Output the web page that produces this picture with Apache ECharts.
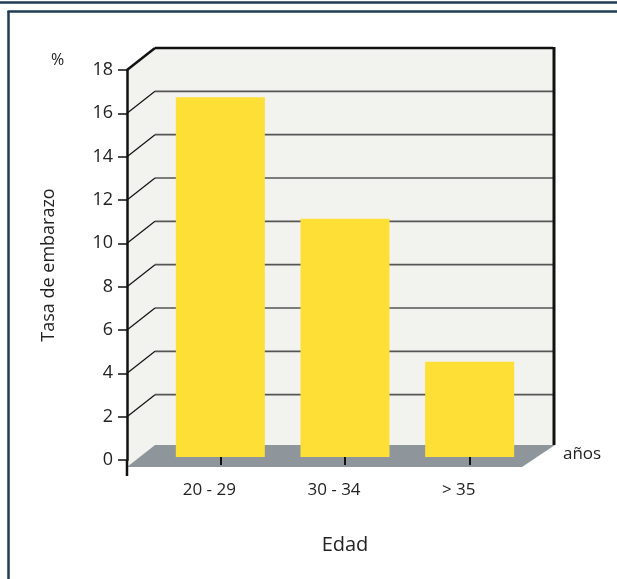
<!DOCTYPE html>
<html>
<head>
<meta charset="utf-8">
<title>Tasa de embarazo por edad</title>
<script src="https://cdn.jsdelivr.net/npm/echarts@6/dist/echarts.min.js"></script>
<style>
	html, body { margin: 0; padding: 0; background: #fff; }
	#chart { width: 617px; height: 579px; }
</style>
</head>
<body>
<div id="chart"></div>
<script>
// datos del grafico
var categorias = ['20 - 29', '30 - 34', '> 35'];
var tasaEmbarazo = [16.6, 11.0, 4.4];
var marcasY = [0, 2, 4, 6, 8, 10, 12, 14, 16, 18];

var FUENTE = '"Open Sans", "DejaVu Sans", sans-serif';
var PROF_X = 28, PROF_Y = -22; // profundidad del efecto 3D
var CAIDA_SUELO = 7;

//paredes y suelo
function pintarParedes(params, api){
	var tl = api.coord([0, marcasY[marcasY.length - 1]]);
	var bl = api.coord([0, 0]);
	var br = api.coord([1, 0]);
	var sueloY = bl[1] + CAIDA_SUELO;
	return {
		type: 'group',
		children: [{
			type: 'rect',
			shape: { x: tl[0] + PROF_X, y: tl[1] + PROF_Y, width: br[0] - bl[0], height: sueloY - tl[1] },
			style: { fill: '#f2f2ee' }
		}, {
			type: 'polygon',
			shape: { points: [[tl[0], tl[1]], [tl[0] + PROF_X, tl[1] + PROF_Y], [bl[0] + PROF_X, sueloY + PROF_Y], [bl[0], sueloY]] },
			style: { fill: '#f2f2ee' }
		}, {
			type: 'polygon',
			shape: { points: [[bl[0], sueloY], [bl[0] + PROF_X, sueloY + PROF_Y], [br[0] + PROF_X + 2, sueloY + PROF_Y], [br[0] - 3, sueloY]] },
			style: { fill: '#8e969b' }
		}]
	};
}

//lineas de la rejilla
function pintarRejilla(params, api){
	var v = api.value(1);
	var izq = api.coord([0, v]);
	var der = api.coord([1, v]);
	var tope = v == marcasY[marcasY.length - 1];
	var hijos = [{
		type: 'line',
		shape: { x1: izq[0], y1: izq[1], x2: izq[0] + PROF_X, y2: izq[1] + PROF_Y },
		style: { stroke: '#111', lineWidth: tope ? 2.5 : 1.2 }
	}, {
		type: 'line',
		shape: { x1: izq[0] + PROF_X, y1: izq[1] + PROF_Y, x2: der[0] + PROF_X, y2: der[1] + PROF_Y },
		style: { stroke: tope ? '#111' : '#555', lineWidth: tope ? 2.5 : 1.6 }
	}];
	if(tope){
		var base = api.coord([1, 0]);
		var cero = api.coord([0, 0]);
		hijos.push({
			type: 'line',
			shape: { x1: der[0] + PROF_X + 1, y1: der[1] + PROF_Y - 1, x2: der[0] + PROF_X + 1, y2: base[1] + CAIDA_SUELO + PROF_Y },
			style: { stroke: '#111', lineWidth: 3 }
		});
		hijos.push({
			type: 'line',
			shape: { x1: cero[0], y1: cero[1], x2: cero[0], y2: cero[1] + 16 },
			style: { stroke: '#111', lineWidth: 2.5 }
		});
	}
	return { type: 'group', children: hijos };
}

var chart = echarts.init(document.getElementById('chart'), null, { renderer: 'canvas' });

var option = {
	backgroundColor: '#fff',
	animation: false,
	textStyle: { fontFamily: FUENTE, color: '#222' },
	grid: [
		{ left: 127, top: 70, width: 398, height: 390 },
		{ left: 158, top: 67, width: 374, height: 390 }
	],
	xAxis: [{
		type: 'value', gridIndex: 0, min: 0, max: 1, show: false
	}, {
		type: 'category',
		gridIndex: 1,
		data: categorias,
		offset: 10,
		z: 10,
		axisLine: { show: false },
		axisTick: { show: true, alignWithLabel: true, length: 8, lineStyle: { color: '#111', width: 2 } },
		axisLabel: { fontSize: 17, color: '#222', margin: 15, fontFamily: FUENTE, padding: [0, 22, 0, 0] },
		name: 'Edad',
		nameLocation: 'middle',
		nameGap: 68,
		nameTextStyle: { fontSize: 20, color: '#222', fontFamily: FUENTE }
	}],
	yAxis: [{
		type: 'value',
		gridIndex: 0,
		min: 0,
		max: 18,
		interval: 2,
		z: 10,
		axisLine: { show: true, lineStyle: { color: '#111', width: 2.5 } },
		axisTick: { show: true, length: 9, lineStyle: { color: '#111', width: 1.5 } },
		axisLabel: { fontSize: 18, color: '#222', margin: 14, fontFamily: FUENTE },
		splitLine: { show: false },
		name: 'Tasa de embarazo',
		nameLocation: 'middle',
		nameRotate: 90,
		nameGap: 69,
		nameTextStyle: { fontSize: 18, color: '#222', fontFamily: FUENTE }
	}, {
		type: 'value', gridIndex: 1, min: 0, max: 18, interval: 2, show: false
	}],
	graphic: [
		{ type: 'line', shape: { x1: 0, y1: 2.5, x2: 617, y2: 2.5 }, style: { stroke: '#1f3d55', lineWidth: 2.5 } },
		{ type: 'line', shape: { x1: 7.5, y1: 11.5, x2: 617, y2: 11.5 }, style: { stroke: '#1f3d55', lineWidth: 2.5 } },
		{ type: 'line', shape: { x1: 8.5, y1: 11, x2: 8.5, y2: 579 }, style: { stroke: '#1f3d55', lineWidth: 2.5 } },
		{ type: 'text', left: 51, top: 52, style: { text: '%', fontSize: 16, fill: '#222', fontFamily: FUENTE } },
		{ type: 'text', left: 563, top: 446, style: { text: 'años', fontSize: 17, fill: '#222', fontFamily: FUENTE } }
	],
	series: [{
		type: 'custom',
		name: 'paredes',
		xAxisIndex: 0,
		yAxisIndex: 0,
		z: 1,
		silent: true,
		renderItem: pintarParedes,
		data: [[0, 0]]
	}, {
		type: 'custom',
		name: 'rejilla',
		xAxisIndex: 0,
		yAxisIndex: 0,
		z: 2,
		silent: true,
		renderItem: pintarRejilla,
		data: marcasY.slice(1).map(function(v){ return [0, v]; })
	}, {
		type: 'bar',
		name: 'Tasa de embarazo',
		xAxisIndex: 1,
		yAxisIndex: 1,
		z: 5,
		barWidth: 89,
		itemStyle: { color: '#fddf36' },
		data: tasaEmbarazo
	}]
};

chart.setOption(option);
</script>
</body>
</html>
